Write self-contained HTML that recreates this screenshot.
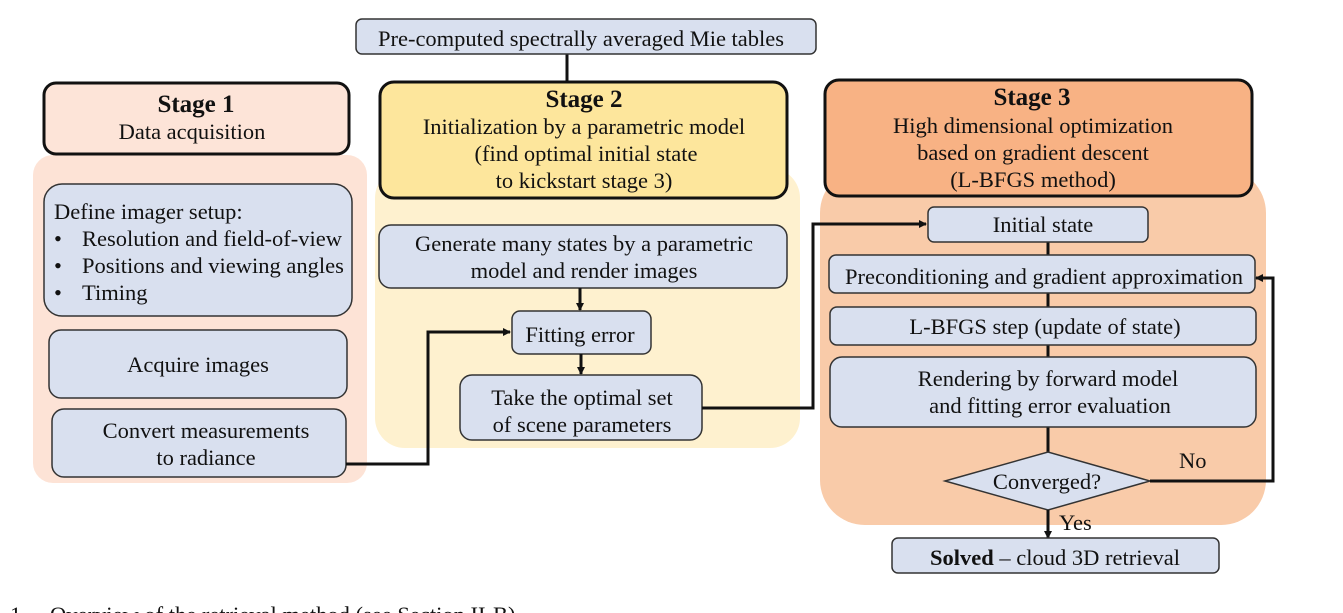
<!DOCTYPE html>
<html><head><meta charset="utf-8"><style>
html,body{margin:0;padding:0;background:#fff;width:1343px;height:613px;overflow:hidden}
svg{display:block}
text{font-family:"Liberation Serif",serif;font-size:22.5px;fill:#111}
.b{font-weight:bold;font-size:25px}
.box{fill:#d9e0ef;stroke:#333;stroke-width:1.5}
.ln{stroke:#111;stroke-width:3;fill:none}
</style></head><body>
<svg width="1343" height="613" viewBox="0 0 1343 613">
<defs><marker id="a" markerWidth="8" markerHeight="8" refX="7" refY="4" orient="auto" markerUnits="userSpaceOnUse"><path d="M0,0 L8,4 L0,8z" fill="#111"/></marker></defs>
<rect x="33" y="155" width="334" height="328" rx="20" fill="#fde3d6"/>
<rect x="375" y="168" width="425" height="280" rx="30" fill="#fef1cf"/>
<rect x="820" y="168" width="446" height="357" rx="45" fill="#f9cba9"/>
<rect x="44" y="83" width="305" height="71" rx="12" fill="#fde4d8" stroke="#111" stroke-width="3"/>
<text x="196" y="112" text-anchor="middle" class="b">Stage 1</text>
<text x="192" y="139" text-anchor="middle">Data acquisition</text>
<rect x="380" y="82" width="407" height="116" rx="14" fill="#fde69c" stroke="#111" stroke-width="3"/>
<text x="584" y="107" text-anchor="middle" class="b">Stage 2</text>
<text x="584" y="134" text-anchor="middle">Initialization by a parametric model</text>
<text x="586" y="161" text-anchor="middle">(find optimal initial state</text>
<text x="584" y="188" text-anchor="middle">to kickstart stage 3)</text>
<rect x="825" y="80" width="427" height="116" rx="14" fill="#f8b284" stroke="#111" stroke-width="3"/>
<text x="1032" y="105" text-anchor="middle" class="b">Stage 3</text>
<text x="1033" y="133" text-anchor="middle">High dimensional optimization</text>
<text x="1033" y="160" text-anchor="middle">based on gradient descent</text>
<text x="1033" y="187" text-anchor="middle">(L-BFGS method)</text>
<line class="ln" x1="567" y1="54" x2="567" y2="82"/>
<rect class="box" x="356" y="19" width="460" height="35" rx="6"/>
<text x="581" y="46" text-anchor="middle">Pre-computed spectrally averaged Mie tables</text>
<rect class="box" x="44" y="184" width="308" height="132" rx="18"/>
<text x="54" y="219">Define imager setup:</text>
<text x="54" y="246">•</text><text x="82" y="246">Resolution and field-of-view</text>
<text x="54" y="273">•</text><text x="82" y="273">Positions and viewing angles</text>
<text x="54" y="300">•</text><text x="82" y="300">Timing</text>
<rect class="box" x="49" y="330" width="298" height="68" rx="12"/>
<text x="198" y="372" text-anchor="middle">Acquire images</text>
<rect class="box" x="52" y="409" width="294" height="68" rx="12"/>
<text x="206" y="438" text-anchor="middle">Convert measurements</text>
<text x="206" y="465" text-anchor="middle">to radiance</text>
<rect class="box" x="379" y="225" width="408" height="63" rx="12"/>
<text x="584" y="251" text-anchor="middle">Generate many states by a parametric</text>
<text x="584" y="278" text-anchor="middle">model and render images</text>
<rect class="box" x="512" y="311" width="139" height="43" rx="8"/>
<text x="580" y="342" text-anchor="middle">Fitting error</text>
<rect class="box" x="460" y="375" width="242" height="65" rx="12"/>
<text x="582" y="405" text-anchor="middle">Take the optimal set</text>
<text x="582" y="432" text-anchor="middle">of scene parameters</text>
<line class="ln" x1="580" y1="288" x2="580" y2="310" marker-end="url(#a)"/>
<line class="ln" x1="581" y1="354" x2="581" y2="374" marker-end="url(#a)"/>
<polyline class="ln" points="346,464 428,464 428,332 510,332" marker-end="url(#a)"/>
<polyline class="ln" points="702,408 813,408 813,224 926,224" marker-end="url(#a)"/>
<line class="ln" x1="1048" y1="242" x2="1048" y2="255"/>
<line class="ln" x1="1048" y1="293" x2="1048" y2="307"/>
<line class="ln" x1="1048" y1="345" x2="1048" y2="357"/>
<line class="ln" x1="1048" y1="427" x2="1048" y2="452"/>
<rect class="box" x="928" y="207" width="220" height="35" rx="6"/>
<text x="1043" y="232" text-anchor="middle">Initial state</text>
<rect class="box" x="829" y="255" width="426" height="38" rx="7"/>
<text x="1044" y="284" text-anchor="middle">Preconditioning and gradient approximation</text>
<rect class="box" x="830" y="307" width="426" height="38" rx="7"/>
<text x="1045" y="334" text-anchor="middle">L-BFGS step (update of state)</text>
<rect class="box" x="830" y="357" width="426" height="70" rx="12"/>
<text x="1048" y="386" text-anchor="middle">Rendering by forward model</text>
<text x="1050" y="413" text-anchor="middle">and fitting error evaluation</text>
<polygon class="box" points="945,481 1048,452 1150,481 1048,510"/>
<text x="1047" y="489" text-anchor="middle">Converged?</text>
<polyline class="ln" points="1150,481 1273,481 1273,278 1256,278" marker-end="url(#a)"/>
<text x="1179" y="468">No</text>
<line class="ln" x1="1048" y1="510" x2="1048" y2="538" marker-end="url(#a)"/>
<text x="1059" y="530">Yes</text>
<rect class="box" x="892" y="538" width="327" height="35" rx="6"/>
<text x="1055" y="565" text-anchor="middle"><tspan font-weight="bold">Solved</tspan> – cloud 3D retrieval</text>
<text x="10" y="622">1.</text><text x="50" y="622">Overview of the retrieval method (see Section II-B)</text>
</svg>
</body></html>
